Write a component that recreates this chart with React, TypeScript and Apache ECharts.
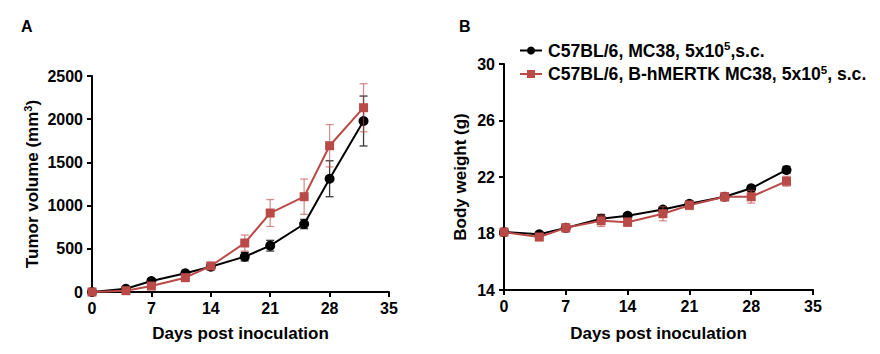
import React, { useEffect, useRef } from "react";
import * as echarts from "echarts";

const days = [0, 4, 7, 11, 14, 18, 21, 25, 28, 32];
const tumorBlack = [0, 38, 127, 216, 293, 409, 536, 787, 1311, 1979];
const tumorBlackErr = [0, 10, 15, 20, 20, 50, 62, 54, 208, 289];
const tumorRed = [0, 15, 69, 166, 301, 567, 914, 1103, 1693, 2133];
const tumorRedErr = [0, 10, 15, 20, 25, 93, 156, 204, 245, 278];

const weightBlack = [18.1, 17.95, 18.4, 19.05, 19.25, 19.7, 20.1, 20.6, 21.2, 22.5];
const weightBlackErr = [0.2, 0.15, 0.2, 0.3, 0.15, 0.2, 0.2, 0.2, 0.2, 0.25];
const weightRed = [18.1, 17.75, 18.4, 18.9, 18.8, 19.4, 20.0, 20.6, 20.6, 21.7];
const weightRedErr = [0.25, 0.25, 0.3, 0.4, 0.3, 0.5, 0.3, 0.3, 0.45, 0.35];

const xTicks = [0, 7, 14, 21, 28, 35];
const tumorTicks = [0, 500, 1000, 1500, 2000, 2500];
const weightTicks = [14, 18, 22, 26, 30];

const nameBlack = "C57BL/6, MC38, 5x10^5,s.c.";
const nameRed = "C57BL/6, B-hMERTK MC38, 5x10^5, s.c.";

const RED = "#b94a48";
const FONT = "Arial, 'Liberation Sans', sans-serif";

function pairs(ys: number[]) {
  return days.map((d, i) => [d, ys[i]]);
}
function errs(ys: number[], es: number[]) {
  return days.map((d, i) => [d, ys[i] - es[i], ys[i] + es[i]]);
}

function errSeries(data: number[][], idx: number, color: string, z: number) {
  return {
    type: "custom",
    xAxisIndex: idx,
    yAxisIndex: idx,
    z,
    silent: true,
    data,
    encode: { x: 0, y: [1, 2] },
    renderItem: (params: any, api: any) => {
      const x = api.value(0);
      const lo = api.coord([x, api.value(1)]);
      const hi = api.coord([x, api.value(2)]);
      const w = 4;
      const style = { stroke: color, lineWidth: 1.3 };
      return {
        type: "group",
        children: [
          { type: "line", shape: { x1: lo[0], y1: lo[1], x2: hi[0], y2: hi[1] }, style },
          { type: "line", shape: { x1: lo[0] - w, y1: lo[1], x2: lo[0] + w, y2: lo[1] }, style },
          { type: "line", shape: { x1: hi[0] - w, y1: hi[1], x2: hi[0] + w, y2: hi[1] }, style },
        ],
      };
    },
  };
}

function axisCommon() {
  return {
    axisLine: { show: true, lineStyle: { color: "#000", width: 2 } },
    axisTick: { show: true, inside: false, length: 5, lineStyle: { color: "#000", width: 2 } },
    splitLine: { show: false },
  };
}

export default function App() {
  const ref = useRef<HTMLDivElement>(null);
  useEffect(() => {
    if (!ref.current) return;
    const chart = echarts.init(ref.current, undefined, { renderer: "svg" });
    const labelStyle = {
      color: "#000",
      fontWeight: "bold",
      fontSize: 16,
      fontFamily: FONT,
      formatter: (v: number) => String(v),
    };
    const supStyle = {
      fontSize: 11,
      fontWeight: "bold",
      fontFamily: FONT,
      color: "#000",
      verticalAlign: "bottom",
      padding: [0, 0, 9, 0],
    };
    const nameStyle = {
      color: "#000",
      fontWeight: "bold",
      fontSize: 17,
      fontFamily: FONT,
      rich: { sup: supStyle },
    };
    const option: any = {
      animation: false,
      backgroundColor: "#fff",
      textStyle: { fontFamily: FONT },
      title: [
        { text: "A", left: 16, top: 13, textStyle: { fontSize: 16, fontWeight: "bold", color: "#000", fontFamily: FONT } },
        { text: "B", left: 454, top: 13, textStyle: { fontSize: 16, fontWeight: "bold", color: "#000", fontFamily: FONT } },
      ],
      legend: {
        orient: "vertical",
        left: 514,
        top: 35,
        itemGap: 4,
        itemWidth: 22,
        itemHeight: 10,
        data: [nameBlack, nameRed],
        formatter: (n: string) => n.replace("^5", "{sup|5}"),
        textStyle: {
          color: "#000",
          fontWeight: "bold",
          fontSize: 17.6,
          fontFamily: FONT,
          padding: [0, 0, 0, 1],
          rich: { sup: { ...supStyle, fontSize: 11.5 } },
        },
      },
      grid: [
        { left: 92, width: 297, top: 76, height: 216, containLabel: false },
        { left: 504, width: 309, top: 64, height: 226, containLabel: false },
      ],
      xAxis: [0, 1].map((i) => ({
        type: "value",
        gridIndex: i,
        min: xTicks[0],
        max: xTicks[xTicks.length - 1],
        interval: 7,
        name: "Days post inoculation",
        nameLocation: "middle",
        nameGap: i === 0 ? 33 : 35,
        nameTextStyle: nameStyle,
        axisLabel: { ...labelStyle, margin: 8 },
        ...axisCommon(),
      })),
      yAxis: [
        {
          type: "value",
          gridIndex: 0,
          min: tumorTicks[0],
          max: tumorTicks[tumorTicks.length - 1],
          interval: 500,
          name: "Tumor volume (mm{sup|3})",
          nameLocation: "middle",
          nameGap: 50,
          nameTextStyle: nameStyle,
          axisLabel: { ...labelStyle, margin: 9 },
          ...axisCommon(),
        },
        {
          type: "value",
          gridIndex: 1,
          min: weightTicks[0],
          max: weightTicks[weightTicks.length - 1],
          interval: 4,
          name: "Body weight (g)",
          nameLocation: "middle",
          nameGap: 35,
          nameTextStyle: nameStyle,
          axisLabel: { ...labelStyle, margin: 9 },
          ...axisCommon(),
        },
      ],
      series: [
        errSeries(errs(tumorBlack, tumorBlackErr), 0, "#3a3a3a", 2),
        {
          type: "line",
          name: nameBlack,
          xAxisIndex: 0,
          yAxisIndex: 0,
          data: pairs(tumorBlack),
          symbol: "circle",
          symbolSize: 10,
          z: 3,
          itemStyle: { color: "#000" },
          lineStyle: { color: "#000", width: 2 },
        },
        errSeries(errs(tumorRed, tumorRedErr), 0, "rgba(185,74,72,0.6)", 4),
        {
          type: "line",
          name: nameRed,
          xAxisIndex: 0,
          yAxisIndex: 0,
          data: pairs(tumorRed),
          symbol: "rect",
          symbolSize: 9,
          z: 5,
          itemStyle: { color: RED },
          lineStyle: { color: RED, width: 2 },
        },
        errSeries(errs(weightBlack, weightBlackErr), 1, "#3a3a3a", 2),
        {
          type: "line",
          name: nameBlack,
          xAxisIndex: 1,
          yAxisIndex: 1,
          data: pairs(weightBlack),
          symbol: "circle",
          symbolSize: 10,
          z: 3,
          itemStyle: { color: "#000" },
          lineStyle: { color: "#000", width: 2 },
        },
        errSeries(errs(weightRed, weightRedErr), 1, "rgba(185,74,72,0.6)", 4),
        {
          type: "line",
          name: nameRed,
          xAxisIndex: 1,
          yAxisIndex: 1,
          data: pairs(weightRed),
          symbol: "rect",
          symbolSize: 9,
          z: 5,
          itemStyle: { color: RED },
          lineStyle: { color: RED, width: 2 },
        },
      ],
    };
    chart.setOption(option);
    return () => chart.dispose();
  }, []);
  return (
    <div
      ref={ref}
      style={{ position: "fixed", left: 0, top: 0, width: 880, height: 354, background: "#fff" }}
    />
  );
}
